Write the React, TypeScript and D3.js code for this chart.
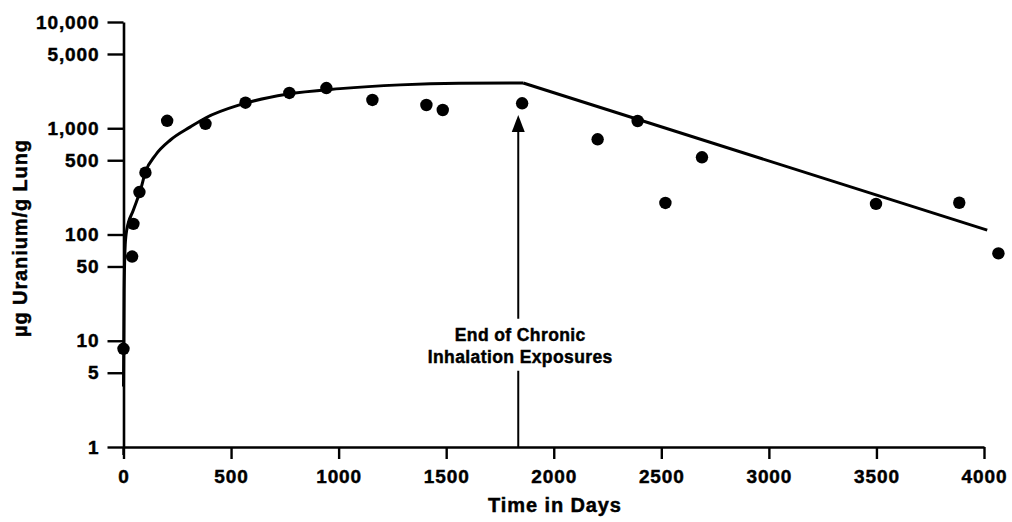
import { useEffect, useRef } from 'react';
import * as d3 from 'd3';

// measured points (days, µg U / g lung)
const sampleDays = [0, 40, 46, 74, 102, 203, 381, 567, 771, 943, 1157, 1408, 1484, 1853, 2204, 2390, 2519, 2689, 3498, 3885, 4067];
const sampleValues = [8.4, 62, 126, 251, 382, 1175, 1100, 1740, 2150, 2390, 1845, 1655, 1485, 1718, 787, 1170, 198, 533, 194, 199, 66.5];

// fitted accumulation curve during exposure
const riseDays = [0, 3, 8, 15, 46, 79, 102, 149, 218, 311, 381, 544, 759, 1007, 1286, 1560, 1858];
const riseValues = [3.7, 30, 80, 110, 170, 262, 387, 560, 775, 1030, 1250, 1670, 2090, 2360, 2560, 2650, 2665];

// clearance after exposure ends
const declineDays = [1858, 4015];
const declineValues = [2665, 110];

const xTicks = [0, 500, 1000, 1500, 2000, 2500, 3000, 3500, 4000];
const yTicks = [1, 5, 10, 50, 100, 500, 1000, 5000, 10000];
const yTickLabels = ['1', '5', '10', '50', '100', '500', '1,000', '5,000', '10,000'];

const arrowDay = 1835;
const arrowTipValue = 1330;
const noteLines = ['End of Chronic', 'Inhalation Exposures'];

const FONT = '"Liberation Sans", Arial, Helvetica, sans-serif';

export default function App() {
  const svgRef = useRef<SVGSVGElement>(null);

  useEffect(() => {
    if (!svgRef.current) return;
    const svg = d3.select(svgRef.current);
    svg.selectAll('*').remove();

    const x = d3.scaleLinear().domain([0, 4000]).range([123.5, 984]);
    const y = d3.scaleLog().domain([1, 10000]).range([447, 22]);

    // heavy printed lettering
    const bold = (sel: any, size: number, spacing: number) => sel
      .attr('font-family', FONT).attr('font-weight', 700)
      .attr('font-size', size).attr('letter-spacing', spacing)
      .attr('fill', '#000').attr('stroke', '#000').attr('stroke-width', 0.45);

    // y axis
    const yAxis = d3.axisLeft(y)
      .tickValues(yTicks)
      .tickSize(16)
      .tickSizeOuter(0)
      .tickPadding(8)
      .tickFormat((_, i) => yTickLabels[i]);
    const gy = svg.append('g').attr('transform', `translate(${x(0)},0)`).call(yAxis);
    gy.select('.domain').attr('stroke-width', 2.6);
    gy.selectAll('.tick line').attr('stroke-width', 2.4);
    bold(gy.selectAll('.tick text'), 19, 0.9);
    // small extension of the y axis below the x axis
    svg.append('line')
      .attr('x1', x(0)).attr('x2', x(0))
      .attr('y1', y(1)).attr('y2', y(1) + 8)
      .attr('stroke', '#000').attr('stroke-width', 2.4);

    // x axis
    const xAxis = d3.axisBottom(x)
      .tickValues(xTicks)
      .tickSize(12)
      .tickSizeOuter(0)
      .tickPadding(11)
      .tickFormat(d3.format('d'));
    const gx = svg.append('g').attr('transform', `translate(0,${y(1)})`).call(xAxis);
    gx.select('.domain').attr('stroke-width', 2.6);
    gx.selectAll('.tick line').attr('stroke-width', 2.4);
    bold(gx.selectAll('.tick text'), 19, 0.9);

    // fitted lines
    const riseData = riseDays.map((d, i) => [d, riseValues[i]] as [number, number]);
    const declineData = declineDays.map((d, i) => [d, declineValues[i]] as [number, number]);
    const line = d3.line<[number, number]>()
      .x(d => x(d[0]))
      .y(d => y(d[1]));

    svg.append('path').datum(riseData)
      .attr('fill', 'none').attr('stroke', '#000').attr('stroke-width', 3)
      .attr('stroke-linejoin', 'round')
      .attr('d', line.curve(d3.curveMonotoneX));
    svg.append('path').datum(declineData)
      .attr('fill', 'none').attr('stroke', '#000').attr('stroke-width', 3)
      .attr('d', line.curve(d3.curveLinear));

    // data points
    svg.append('g').selectAll('circle')
      .data(sampleDays.map((d, i) => [d, sampleValues[i]]))
      .join('circle')
      .attr('cx', d => x(d[0])).attr('cy', d => y(d[1]))
      .attr('r', 6.2).attr('fill', '#000');

    // arrow marking end of exposures
    const ax = x(arrowDay);
    const tipY = y(arrowTipValue);
    svg.append('line')
      .attr('x1', ax).attr('x2', ax)
      .attr('y1', y(1)).attr('y2', tipY + 14)
      .attr('stroke', '#000').attr('stroke-width', 2);
    svg.append('path')
      .attr('d', `M${ax},${tipY} L${ax - 6.5},${tipY + 17} L${ax + 6.5},${tipY + 17} Z`)
      .attr('fill', '#000');

    const noteY = y(10);
    svg.append('rect')
      .attr('x', ax - 5).attr('y', noteY - 22)
      .attr('width', 10).attr('height', 52)
      .attr('fill', '#fff');
    bold(svg.append('g').selectAll('text')
      .data(noteLines)
      .join('text')
      .attr('x', ax + 2)
      .attr('y', (_, i) => noteY + i * 22)
      .attr('text-anchor', 'middle')
      .text(d => d), 17.5, 0.4);

    // axis titles
    bold(svg.append('text')
      .attr('x', 555).attr('y', 512)
      .attr('text-anchor', 'middle')
      .text('Time in Days'), 20, 0.9);
    bold(svg.append('text')
      .attr('transform', 'translate(27,238) rotate(-90)')
      .attr('text-anchor', 'middle')
      .text('µg Uranium/g Lung'), 20, 0.9);
  }, []);

  return (
    <svg
      ref={svgRef}
      width={1012}
      height={522}
      style={{ position: 'absolute', left: 0, top: 0, background: '#fff' }}
    />
  );
}
